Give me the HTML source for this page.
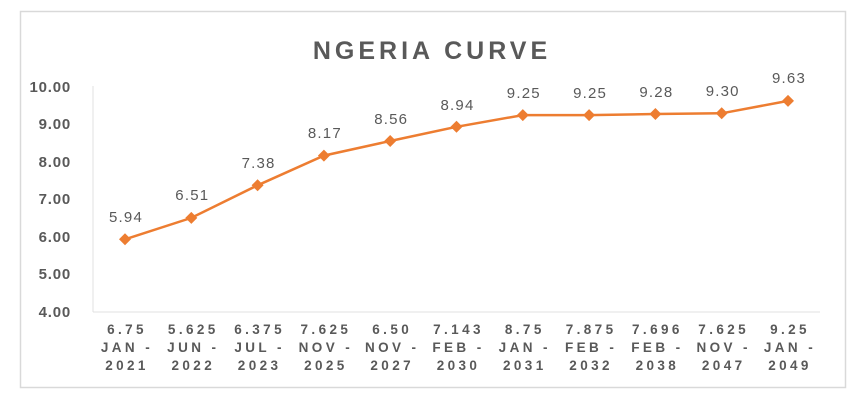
<!DOCTYPE html><html><head><style>body{margin:0;background:#fff}svg{display:block}</style></head><body>
<svg width="866" height="412" xmlns="http://www.w3.org/2000/svg" font-family="Liberation Sans, sans-serif">
<rect x="0" y="0" width="866" height="412" fill="#fff"/>
<rect x="20.5" y="11.5" width="825" height="376" fill="#fff" stroke="#d9d9d9" stroke-width="1.5"/>
<text x="432" y="59" text-anchor="middle" font-size="25" font-weight="bold" fill="#595959" letter-spacing="4">NGERIA CURVE</text>
<g font-size="15" font-weight="bold" fill="#595959" text-anchor="end" letter-spacing="0.8">
<text x="71" y="92">10.00</text><text x="71" y="129">9.00</text><text x="71" y="167">8.00</text><text x="71" y="204">7.00</text><text x="71" y="242">6.00</text><text x="71" y="279">5.00</text><text x="71" y="317">4.00</text>
</g>
<line x1="93" y1="86" x2="93" y2="312" stroke="#e0e0e0"/>
<line x1="93" y1="312" x2="820" y2="312" stroke="#e0e0e0"/>
<polyline fill="none" stroke="#ed7d31" stroke-width="2.5" points="125,239.3 191.3,217.9 257.6,185.3 323.9,155.6 390.2,141 456.5,126.8 522.8,115.1 589.1,115.1 655.4,114 721.7,113.3 788,100.9"/>
<g fill="#ed7d31">
<path d="M125,233.3l6,6-6,6-6-6z"/><path d="M191.3,211.9l6,6-6,6-6-6z"/><path d="M257.6,179.3l6,6-6,6-6-6z"/><path d="M323.9,149.6l6,6-6,6-6-6z"/><path d="M390.2,135l6,6-6,6-6-6z"/><path d="M456.5,120.8l6,6-6,6-6-6z"/><path d="M522.8,109.1l6,6-6,6-6-6z"/><path d="M589.1,109.1l6,6-6,6-6-6z"/><path d="M655.4,108l6,6-6,6-6-6z"/><path d="M721.7,107.3l6,6-6,6-6-6z"/><path d="M788,94.9l6,6-6,6-6-6z"/>
</g>
<g font-size="15" fill="#595959" text-anchor="middle" letter-spacing="1.2">
<text x="126" y="222">5.94</text><text x="192.3" y="200">6.51</text><text x="258.6" y="168">7.38</text><text x="324.9" y="138">8.17</text><text x="391.2" y="124">8.56</text><text x="457.5" y="110">8.94</text><text x="523.8" y="98">9.25</text><text x="590.1" y="98">9.25</text><text x="656.4" y="97">9.28</text><text x="722.7" y="96">9.30</text><text x="789" y="83">9.63</text>
</g>
<g font-size="13.5" font-weight="bold" fill="#595959" text-anchor="middle" letter-spacing="3.4">
<g transform="translate(127,0)"><text y="334">6.75</text><text y="352">JAN -</text><text y="370">2021</text></g>
<g transform="translate(193.3,0)"><text y="334">5.625</text><text y="352">JUN -</text><text y="370">2022</text></g>
<g transform="translate(259.6,0)"><text y="334">6.375</text><text y="352">JUL -</text><text y="370">2023</text></g>
<g transform="translate(325.9,0)"><text y="334">7.625</text><text y="352">NOV -</text><text y="370">2025</text></g>
<g transform="translate(392.2,0)"><text y="334">6.50</text><text y="352">NOV -</text><text y="370">2027</text></g>
<g transform="translate(458.5,0)"><text y="334">7.143</text><text y="352">FEB -</text><text y="370">2030</text></g>
<g transform="translate(524.8,0)"><text y="334">8.75</text><text y="352">JAN -</text><text y="370">2031</text></g>
<g transform="translate(591.1,0)"><text y="334">7.875</text><text y="352">FEB -</text><text y="370">2032</text></g>
<g transform="translate(657.4,0)"><text y="334">7.696</text><text y="352">FEB -</text><text y="370">2038</text></g>
<g transform="translate(723.7,0)"><text y="334">7.625</text><text y="352">NOV -</text><text y="370">2047</text></g>
<g transform="translate(790,0)"><text y="334">9.25</text><text y="352">JAN -</text><text y="370">2049</text></g>
</g>
</svg>
</body></html>
